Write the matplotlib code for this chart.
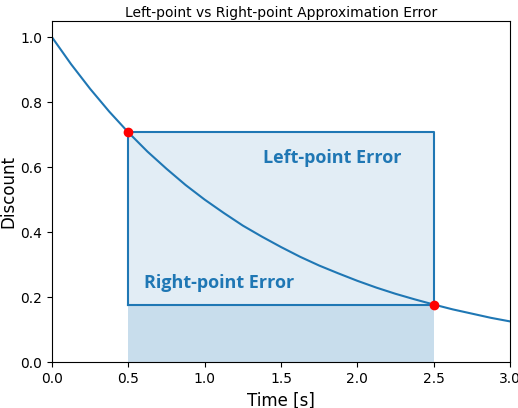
import matplotlib
matplotlib.use("Agg")
import matplotlib.pyplot as plt

# discount curve
times = [i / 8 for i in range(25)]
discount = [1.0, 0.917, 0.841, 0.771, 0.707, 0.648, 0.595, 0.545, 0.5, 0.459,
            0.420, 0.386, 0.354, 0.324, 0.297, 0.273, 0.25, 0.229, 0.210, 0.193,
            0.177, 0.162, 0.149, 0.136, 0.125]
t_left, t_right = 0.5, 2.5
d_left, d_right = 0.707, 0.177

fig = plt.figure(figsize=(5.18, 4.08), dpi=100)
ax = fig.add_axes([52 / 518, 46 / 408, 458 / 518, 341 / 408])
ax.plot(times, discount, color="C0", lw=1.5)

ax.fill_between([t_left, t_right], 0, d_left, color="C0", alpha=0.13, lw=0)
ax.fill_between([t_left, t_right], 0, d_right, color="C0", alpha=0.13, lw=0)
ax.plot([t_left, t_left, t_right, t_right], [d_right, d_left, d_left, d_right], color="C0", lw=1.5)
ax.plot([t_left, t_right], [d_right, d_right], color="C0", lw=1.5)

ax.plot([t_left, t_right], [d_left, d_right], "o", color="red", ms=6, zorder=5)

lab = dict(color="C0", fontsize=13, fontweight="bold", family=["Open Sans", "DejaVu Sans"], va="center")
ax.text(1.38, 0.628, "Left-point Error", **lab)
ax.text(0.6, 0.243, "Right-point Error", **lab)

ax.set_xlim(0, 3)
ax.set_ylim(0, 1.05)
ax.set_xlabel("Time [s]", fontsize=12)
ax.set_ylabel("Discount", fontsize=12, labelpad=2)
ax.set_title("Left-point vs Right-point Approximation Error", fontsize=10, pad=3)
fig.savefig("out.png", dpi=100)
